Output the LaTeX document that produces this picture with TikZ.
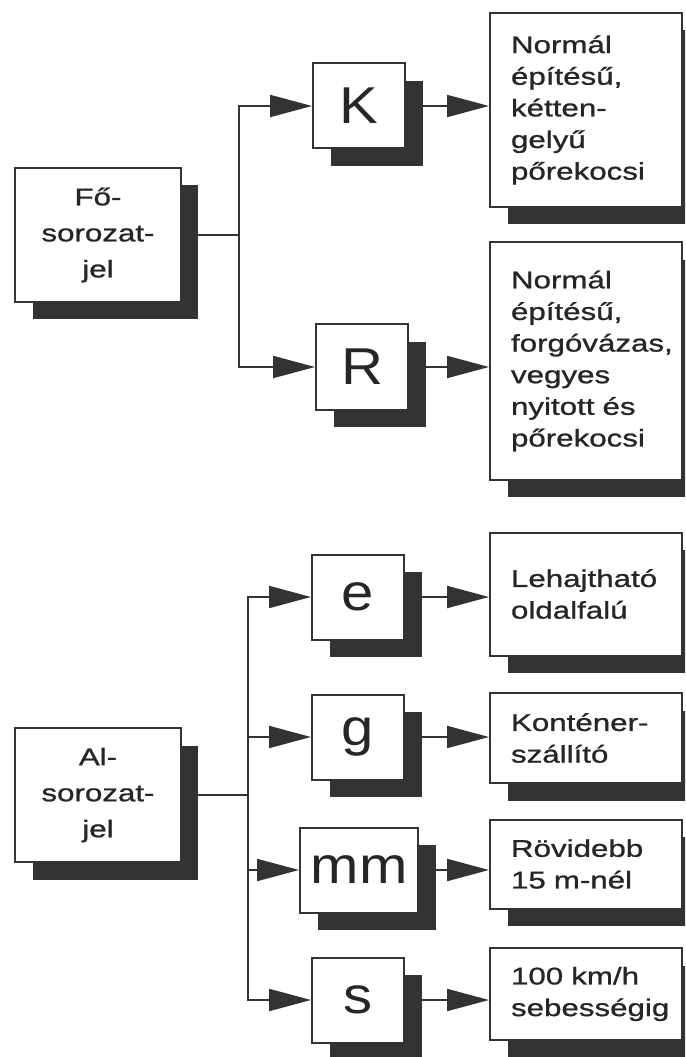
\documentclass[tikz,border=0pt]{standalone}
\usepackage{fontspec}
\setmainfont{Liberation Sans}[FakeStretch=1.3, FakeBold=1]
\newfontfamily\letterfont{Liberation Sans}[FakeStretch=1.12]
\usetikzlibrary{arrows.meta, shadows}
\hyphenpenalty=10000

\begin{document}
\begin{tikzpicture}[x=0.2mm, y=-0.2mm,
  box/.style={draw=black!80, line width=0.4mm, fill=white, text=black!85,
    drop shadow={shadow xshift=3.5mm, shadow yshift=-3.5mm, fill=black!80, opacity=1}},
  headbox/.style={box, minimum width=33mm, minimum height=26.8mm, align=center,
    font=\fontsize{13.7}{20.5}\selectfont},
  codebox/.style={box, minimum width=18.4mm, minimum height=17mm,
    font=\letterfont\fontsize{29.5}{30}\selectfont},
  descbox/.style={box, inner xsep=4.2mm, text width=30mm, align=left,
    font=\fontsize{13.7}{18}\selectfont},
  link/.style={draw=black!80, line width=0.4mm},
  arr/.style={link, -{Triangle[length=8.4mm, width=4.4mm]}}]

  \clip (0,0) rectangle (685,1057);

  % Main series sign
  \node[headbox] (fo) at (98,235) {Fő-\\sorozat-\\jel};
  \node[codebox] (K) at (359,106) {K};
  \node[codebox] (R) at (362,367) {R};
  \node[descbox, minimum height=38.8mm] (dK) at (586,110)
    {Normál\\építésű,\\kétten-\\gelyű\\pőrekocsi};
  \node[descbox, minimum height=47.4mm] (dR) at (586,361)
    {Normál\\építésű,\\forgóvázas,\\vegyes\\nyitott és\\pőrekocsi};

  \coordinate (j1) at (239,235);
  \draw[link] (fo) -- (j1);
  \draw[arr] (j1) |- (K);
  \draw[arr] (j1) |- (R);
  \draw[arr] (K) -- (K -| dK.west);
  \draw[arr] (R) -- (R -| dR.west);

  % Sub series sign
  \node[headbox] (al) at (98,795) {Al-\\sorozat-\\jel};
  \node[codebox] (e) at (358,597) {e};
  \node[codebox] (g) at (358,737) {g};
  \node[codebox, minimum width=23.6mm] (mm) at (359,870) {mm};
  \node[codebox] (s) at (358,1000) {s};
  \node[descbox, minimum height=24.6mm] (de) at (586,594) {Lehajtható\\oldalfalú};
  \node[descbox, minimum height=18mm] (dg) at (586,738) {Konténer-\\szállító};
  \node[descbox, minimum height=17.8mm] (dmm) at (586,864) {Rövidebb\\15 m-nél};
  \node[descbox, minimum height=18.4mm] (ds) at (586,994) {100 km/h\\sebességig};

  \coordinate (j2) at (248,795);
  \draw[link] (al) -- (j2);
  \foreach \c/\d in {e/de, g/dg, mm/dmm, s/ds} {
    \draw[arr] (j2) |- (\c);
    \draw[arr] (\c) -- (\c -| \d.west);
  }

\end{tikzpicture}
\end{document}
